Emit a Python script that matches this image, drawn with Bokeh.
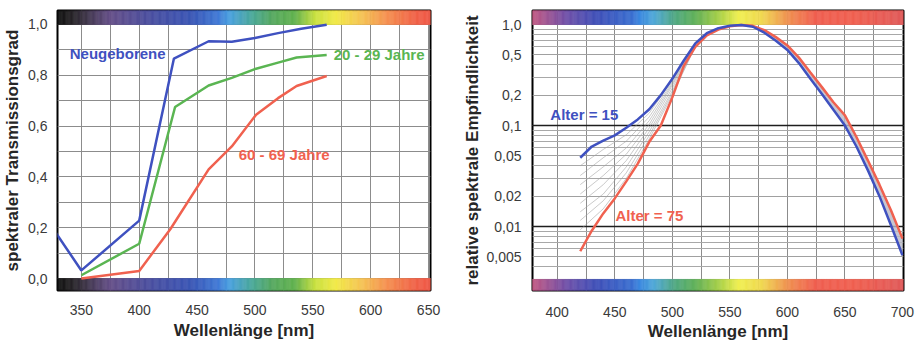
import numpy as np
from bokeh.plotting import figure
from bokeh.layouts import row
from bokeh.models import FixedTicker, CustomJSTickFormatter, Grid, Range1d, Label
from bokeh.embed import file_html
from bokeh.resources import INLINE

FONT = "Liberation Sans"

# ---------------- Left chart data: spectral transmission of the lens ----------------
WL_NEWBORN = [325, 350, 400, 430, 460, 480, 500, 520, 540, 562]
T_NEWBORN = [0.20, 0.032, 0.228, 0.866, 0.934, 0.932, 0.947, 0.966, 0.983, 0.999]
WL_20_29 = [350, 400, 431, 460, 480, 501, 520, 536, 562]
T_20_29 = [0.013, 0.137, 0.675, 0.76, 0.79, 0.826, 0.85, 0.87, 0.88]
WL_60_69 = [350, 400, 427, 460, 480, 501, 520, 536, 562]
T_60_69 = [0.0, 0.03, 0.195, 0.43, 0.52, 0.645, 0.71, 0.758, 0.797]

X_TICKS_L = [350, 400, 450, 500, 550, 600, 650]
X_MINOR_L = [375, 425, 475, 525, 575, 625]
Y_TICKS_L = [0.0, 0.2, 0.4, 0.6, 0.8, 1.0]
Y_MINOR_L = [0.1, 0.3, 0.5, 0.7, 0.9]

# ---------------- Right chart data: relative spectral sensitivity ----------------
WL_R = [420, 430, 440, 450, 460, 470, 480, 490, 500, 510, 520, 530, 540, 550, 560,
        570, 580, 590, 600, 610, 620, 630, 640, 650, 660, 670, 680, 690, 700]
S_AGE15 = [0.048, 0.062, 0.071, 0.080, 0.095, 0.115, 0.145, 0.20, 0.29, 0.44, 0.65, 0.82, 0.92, 0.97, 0.99,
           0.95, 0.83, 0.69, 0.56, 0.415, 0.29, 0.205, 0.143, 0.10, 0.062, 0.036, 0.020, 0.0103, 0.0052]
S_AGE75 = [0.0057, 0.0091, 0.0135, 0.019, 0.028, 0.042, 0.069, 0.10, 0.19, 0.39, 0.60, 0.78, 0.89, 0.96, 0.99,
           0.97, 0.88, 0.75, 0.62, 0.47, 0.335, 0.24, 0.17, 0.126, 0.077, 0.045, 0.026, 0.0145, 0.0076]

# intermediate ages (thin grey fan)
WL_FAN = [420, 440, 460, 480, 500, 520]
FAN_CURVES = [
    [0.040, 0.058, 0.081, 0.133, 0.28, 0.645],
    [0.032, 0.048, 0.070, 0.122, 0.27, 0.64],
    [0.026, 0.039, 0.060, 0.112, 0.26, 0.635],
    [0.021, 0.032, 0.052, 0.103, 0.25, 0.63],
    [0.017, 0.026, 0.045, 0.095, 0.235, 0.625],
    [0.014, 0.021, 0.039, 0.087, 0.22, 0.62],
    [0.0115, 0.018, 0.034, 0.080, 0.21, 0.61],
    [0.0093, 0.015, 0.030, 0.074, 0.20, 0.605],
]

X_TICKS_R = [400, 450, 500, 550, 600, 650, 700]
X_MINOR_R = [425, 475, 525, 575, 625, 675]
Y_TICKS_R = [1.0, 0.5, 0.2, 0.1, 0.05, 0.02, 0.01, 0.005]
Y_MINOR_R = [0.9, 0.8, 0.7, 0.6, 0.4, 0.3,
             0.09, 0.08, 0.07, 0.06, 0.04, 0.03,
             0.009, 0.008, 0.007, 0.006, 0.004, 0.003]
Y_STRONG_R = [0.1, 0.01]

# spectrum colour stops for the rainbow bars
SPEC_L = [(329, "#101010"), (340, "#222022"), (352, "#3a3242"), (375, "#654f88"), (410, "#4a4fa0"),
          (445, "#3a55b5"), (468, "#3f78d5"), (478, "#4aa0e0"), (498, "#4aa898"), (515, "#55a860"),
          (535, "#62b24e"), (552, "#c8e040"), (570, "#f2ea48"), (593, "#f5c254"), (614, "#f59050"),
          (640, "#f06048"), (652, "#f05a48")]
SPEC_R = [(378, "#c45a82"), (408, "#7050a8"), (434, "#4050b8"), (465, "#3a6ed0"), (472, "#3a88e0"),
          (484, "#50a8d8"), (503, "#50a880"), (520, "#60b058"), (541, "#a8d048"), (558, "#f0f050"),
          (578, "#f0d850"), (601, "#f09050"), (624, "#f06050"), (660, "#f06050"), (701, "#e05a5a")]

BLUE = "#3f51c0"
GREEN = "#5ab552"
RED = "#f0614f"
GRID = "#8c8c8c"
TICK_COLOR = "#3a3a3a"
LABEL_COLOR = "#262626"


def hex2rgb(h):
    return np.array([int(h[i:i + 2], 16) for i in (1, 3, 5)], dtype=float)


def spectrum(stops, lo, hi, step=1.0):
    ws = [s[0] for s in stops]
    cs = [hex2rgb(s[1]) for s in stops]
    lefts, rights, cols = [], [], []
    w = lo
    while w < hi:
        mid = w + step / 2
        rgb = [np.interp(mid, ws, [c[k] for c in cs]) for k in range(3)]
        cols.append("#%02x%02x%02x" % tuple(int(round(v)) for v in rgb))
        lefts.append(w)
        rights.append(w + step)
        w += step
    return lefts, rights, cols


def style(p):
    p.background_fill_color = "white"
    p.border_fill_color = "white"
    p.outline_line_color = "black"
    p.outline_line_width = 2
    p.axis.axis_line_color = None
    p.axis.major_tick_line_color = None
    p.axis.minor_tick_line_color = None
    p.axis.major_label_text_font = FONT
    p.axis.major_label_text_font_size = "14px"
    p.axis.major_label_text_color = TICK_COLOR
    p.axis.axis_label_text_font = FONT
    p.axis.axis_label_text_font_size = "17px"
    p.axis.axis_label_text_font_style = "bold"
    p.axis.axis_label_text_color = LABEL_COLOR
    p.grid.grid_line_color = GRID
    p.grid.grid_line_width = 1
    p.grid.minor_grid_line_color = GRID
    p.grid.minor_grid_line_width = 1


def bars(p, stops, lo, hi, bottoms_tops):
    l, r, c = spectrum(stops, lo, hi)
    for b, t in bottoms_tops:
        p.quad(left=l, right=r, bottom=b, top=t, fill_color=c, line_color=c, line_width=0.6)


# ---------------- Left figure ----------------
p1 = figure(width=460, height=345, x_range=Range1d(329.4, 651.7), y_range=Range1d(-0.047, 1.055),
            output_backend="svg", toolbar_location=None,
            min_border_left=54, min_border_right=30, min_border_top=10, min_border_bottom=53)
style(p1)
p1.xaxis.ticker = FixedTicker(ticks=X_TICKS_L, minor_ticks=X_MINOR_L)
p1.yaxis.ticker = FixedTicker(ticks=Y_TICKS_L, minor_ticks=Y_MINOR_L)
p1.yaxis.formatter = CustomJSTickFormatter(code="return tick.toFixed(1).replace('.', ',');")
p1.xaxis.axis_label = "Wellenlänge [nm]"
p1.yaxis.axis_label = "spektraler Transmissionsgrad"
p1.xaxis.major_label_standoff = 8
p1.xaxis.axis_label_standoff = 3
p1.yaxis.major_label_standoff = 4
p1.yaxis.axis_label_standoff = 3

bars(p1, SPEC_L, 329, 652, [(1.0, 1.1), (-0.1, 0.0)])

p1.line(WL_NEWBORN, T_NEWBORN, line_color=BLUE, line_width=2.5)
p1.line(WL_20_29, T_20_29, line_color=GREEN, line_width=2.5)
p1.line(WL_60_69, T_60_69, line_color=RED, line_width=2.5)

for txt, x, y, col in [("Neugeborene", 340, 0.885, BLUE), ("20 - 29 Jahre", 568, 0.882, GREEN),
                       ("60 - 69 Jahre", 486, 0.49, RED)]:
    p1.add_layout(Label(x=x, y=y, text=txt, text_color=col, text_font=FONT, text_font_size="15px",
                        text_font_style="bold", text_baseline="middle", text_align="left"))

# ---------------- Right figure ----------------
p2 = figure(width=459, height=345, x_range=Range1d(378.5, 700.9), y_range=Range1d(0.00233, 1.376),
            y_axis_type="log", output_backend="svg", toolbar_location=None,
            min_border_left=68, min_border_right=16, min_border_top=10, min_border_bottom=55)
style(p2)
p2.xaxis.ticker = FixedTicker(ticks=X_TICKS_R, minor_ticks=X_MINOR_R)
p2.yaxis.ticker = FixedTicker(ticks=Y_TICKS_R, minor_ticks=Y_MINOR_R)
p2.yaxis.formatter = CustomJSTickFormatter(
    code="var s = tick >= 1 ? tick.toFixed(1) : String(tick); return s.replace('.', ',');")
p2.xaxis.axis_label = "Wellenlänge [nm]"
p2.yaxis.axis_label = "relative spektrale Empfindlichkeit"
p2.xaxis.major_label_standoff = 10
p2.xaxis.axis_label_standoff = 2
p2.yaxis.major_label_standoff = 5
p2.yaxis.axis_label_standoff = 1
p2.ygrid.grid_line_color = "#a0a0a0"
p2.ygrid.minor_grid_line_color = "#a8a8a8"

strong = Grid(dimension=1, ticker=FixedTicker(ticks=Y_STRONG_R), grid_line_color="#1e1e1e",
              grid_line_width=1.6)
p2.add_layout(strong)

bars(p2, SPEC_R, 378, 701, [(1.0, 2.0), (0.001, 0.003)])

# grey band between the two age curves on the long-wave side
i0 = WL_R.index(560)
p2.varea(x=WL_R[i0:], y1=S_AGE15[i0:], y2=S_AGE75[i0:], fill_color="#b8b8c4", fill_alpha=0.8)

for fan in FAN_CURVES:
    p2.line(WL_FAN, fan, line_color="#a0a0a0", line_width=0.8, line_alpha=0.7)

p2.line(WL_R, S_AGE75, line_color=RED, line_width=2.5)
p2.line(WL_R, S_AGE15, line_color=BLUE, line_width=2.5)

for txt, x, y, col in [("Alter = 15", 394, 0.13, BLUE), ("Alter = 75", 450.6, 0.0128, RED)]:
    p2.add_layout(Label(x=x, y=y, text=txt, text_color=col, text_font=FONT, text_font_size="15px",
                        text_font_style="bold", text_baseline="middle", text_align="left"))

layout = row(p1, p2)
open("out.html", "w").write(file_html(layout, INLINE))
